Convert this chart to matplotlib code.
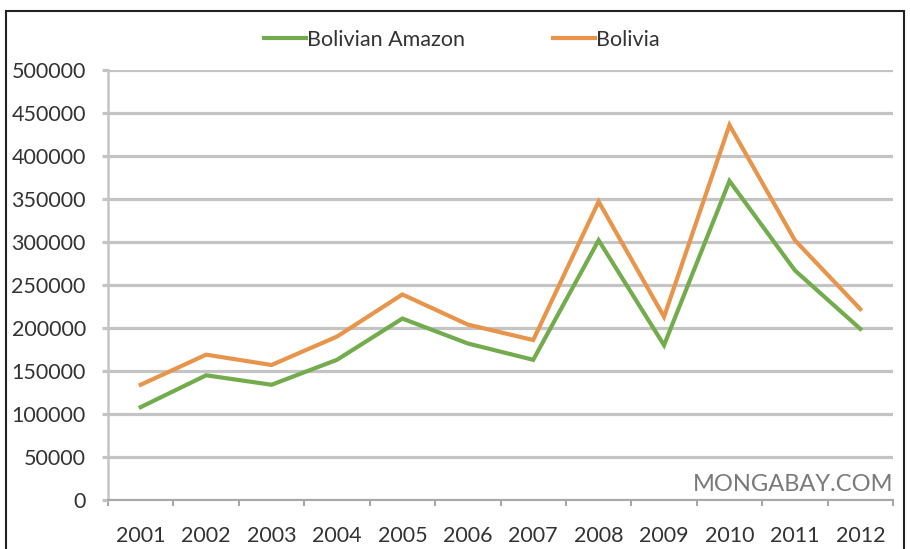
import matplotlib.pyplot as plt
from matplotlib.patches import Rectangle
import numpy as np

years = ['2001', '2002', '2003', '2004', '2005', '2006',
         '2007', '2008', '2009', '2010', '2011', '2012']
bolivian_amazon = [108000, 145000, 134000, 163000, 211000, 182000,
                   163000, 302000, 180000, 371000, 267000, 199000]
bolivia = [134000, 169000, 157000, 190000, 239000, 204000,
           186000, 347000, 213000, 436000, 302000, 222000]
yticks = [0, 50000, 100000, 150000, 200000, 250000,
          300000, 350000, 400000, 450000, 500000]

green = '#72AC4D'
orange = '#E8944A'
grid_grey = '#C4C4C4'

plt.rcParams['font.family'] = ['Lato', 'DejaVu Sans']

fig = plt.figure(figsize=(9.1, 5.49), dpi=100)
ax = fig.add_axes([108/910, 1 - 500/549, 785/910, 430/549])

x = np.arange(len(years))
ax.plot(x, bolivian_amazon, color=green, lw=3, solid_joinstyle='miter',
        label='Bolivian Amazon', zorder=3)
ax.plot(x, bolivia, color=orange, lw=3, solid_joinstyle='miter',
        label='Bolivia', zorder=3)

ax.set_xlim(-0.5, len(years) - 0.5)
ax.set_ylim(0, 500000)
ax.set_yticks(yticks)
ax.set_yticklabels([str(v) for v in yticks])
ax.set_xticks(x)
ax.set_xticklabels(years)
ax.set_xticks(np.arange(-0.5, len(years)), minor=True)

ax.grid(axis='y', color=grid_grey, lw=2.3, zorder=1)
ax.set_axisbelow(True)
for s in ['top', 'right']:
    ax.spines[s].set_visible(False)
ax.spines['left'].set_color(grid_grey)
ax.spines['left'].set_linewidth(1.8)
ax.spines['bottom'].set_color('#A8A8A8')
ax.spines['bottom'].set_linewidth(1.5)

ax.tick_params(axis='y', length=4, width=2.3, color=grid_grey, pad=12,
               labelsize=15.5, labelcolor='#333333')
ax.tick_params(axis='x', which='major', length=0, pad=19,
               labelsize=15.5, labelcolor='#333333')
ax.tick_params(axis='x', which='minor', length=4, width=1.5, color='#A8A8A8')

ax.text(1.0, 0.012, 'MONGABAY.COM', transform=ax.transAxes, ha='right',
        va='bottom', fontsize=17, color='#7A7A7A')

fig.legend(loc='center', bbox_to_anchor=(462/910, 1 - 40/549), ncol=2,
           frameon=False, fontsize=15.5, handlelength=1.95, handletextpad=0.05,
           columnspacing=4.1, labelcolor='#333333')

# outer frame
fig.patches.append(Rectangle((6/910, -0.1), 898/910, 1.1 - 11/549,
                             transform=fig.transFigure, fill=False,
                             edgecolor='#222222', lw=1.5))

fig.savefig('out.png', dpi=100)
